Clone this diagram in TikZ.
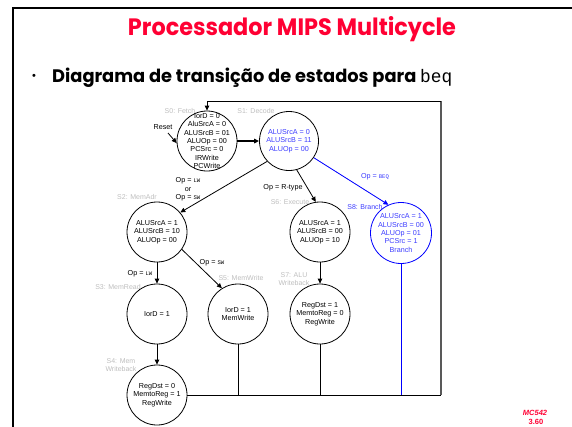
\documentclass[tikz,border=0pt]{standalone}
\usepackage{fontspec}
\setmainfont{Liberation Sans}
\newfontfamily\titlefont{Poppins}
\newfontfamily\monofont{Liberation Mono}
\usetikzlibrary{arrows.meta}
\definecolor{slidered}{RGB}{255,0,51}
\definecolor{stblue}{RGB}{60,60,255}
\definecolor{lineblue}{RGB}{0,0,255}
\definecolor{lblgray}{RGB}{190,190,190}
\newcommand{\smtt}[1]{{\monofont\fontsize{5.6}{6}\selectfont #1}}
\begin{document}
\begin{tikzpicture}[x=1pt,y=-1pt,
  stnode/.style={circle,draw,line width=0.8pt,minimum size=60pt,inner sep=0pt},
  bstnode/.style={stnode,draw=lineblue},
  stxt/.style={font=\fontsize{7.2}{8.4}\selectfont,align=center,inner sep=0pt},
  gl/.style={text=lblgray,font=\fontsize{7}{7.6}\selectfont,align=center,inner sep=0pt},
  elab/.style={font=\fontsize{7.2}{8.5}\selectfont,align=center,inner sep=0pt},
  arr/.style={-{Triangle[length=5pt,width=4.5pt]},line width=0.8pt},
  wire/.style={line width=0.8pt}]
\useasboundingbox (0,0) rectangle (572,426);
% slide frame
\draw[line width=2.2pt] (13,427) -- (13,8) -- (573,8);
% title and bullet
\node[inner sep=0pt,text=slidered] (title) at (292,29)
  {\resizebox{328pt}{19pt}{\titlefont\bfseries Processador MIPS Multicycle}};
\node[inner sep=0pt] (bul) at (34,77) {\fontsize{11}{11}\selectfont •};
\node[inner sep=0pt,anchor=base west] (sub) at (52,82)
  {\resizebox{400pt}{14.5pt}{{\titlefont\bfseries Diagrama de transição de estados para }{\monofont beq}}};
% states
\node[stnode] (S0) at (207,141) {};
\node[stnode,minimum size=59pt] (S1) at (289,141) {};
\node[stnode] (S2) at (157,232) {};
\node[stnode] (S6) at (320,232) {};
\node[bstnode,minimum size=61pt] (S8) at (401,233) {};
\node[stnode] (S3) at (157,314) {};
\node[stnode] (S5) at (238,314) {};
\node[stnode] (S7) at (320,314) {};
\node[stnode] (S4) at (157,395) {};
% state texts
\node[stxt] (t0) at (S0) {IorD = 0\\AluSrcA = 0\\ALUSrcB = 01\\ALUOp = 00\\PCSrc = 0\\IRWrite\\PCWrite};
\node[stxt,text=stblue] (t1) at (S1) {ALUSrcA = 0\\ALUSrcB = 11\\ALUOp = 00};
\node[stxt] (t2) at (S2) {ALUSrcA = 1\\ALUSrcB = 10\\ALUOp = 00};
\node[stxt] (t6) at (S6) {ALUSrcA = 1\\ALUSrcB = 00\\ALUOp = 10};
\node[stxt,text=stblue] (t8) at (S8) {ALUSrcA = 1\\ALUSrcB = 00\\ALUOp = 01\\PCSrc = 1\\Branch};
\node[stxt] (t3) at (S3) {IorD = 1};
\node[stxt] (t5) at (S5) {IorD = 1\\MemWrite};
\node[stxt] (t7) at (S7) {RegDst = 1\\MemtoReg = 0\\RegWrite};
\node[stxt] (t4) at (S4) {RegDst = 0\\MemtoReg = 1\\RegWrite};
% state names
\node[gl] (n0) at (180,111) {S0: Fetch};
\node[gl] (n1) at (256,111) {S1: Decode};
\node[gl] (n2) at (137,197) {S2: MemAdr};
\node[gl] (n6) at (290,202) {S6: Execute};
\node[gl,text=stblue] (n8) at (365,207) {S8: Branch};
\node[gl] (n3) at (118,287) {S3: MemRead};
\node[gl] (n5) at (241,278) {S5: MemWrite};
\node[gl] (n7) at (294,279) {S7: ALU\\Writeback};
\node[gl] (n4) at (121,365) {S4: Mem\\Writeback};
% reset
\node[elab] (reset) at (163,127) {Reset};
\coordinate (rs) at (168,133);
\draw[arr] (rs) -- (S0.184);
% transitions
\draw[arr,line width=1.5pt] (S0.east) -- (S1.west);
\draw[arr] (S1.223) -- (S2.40);
\draw[arr] (S1.285) -- (S6.98);
\draw[arr,draw=lineblue,fill=lineblue] (S1.326) -- (S8.114);
\draw[arr] (S2.south) -- (S3.north);
\draw[arr] (S2.325) -- (S5.122);
\draw[arr] (S6.south) -- (S7.north);
\draw[arr] (S3.south) -- (S4.north);
% edge labels
\node[elab] (l12) at (188,189.5) {Op = \smtt{LW}\\or\\Op = \smtt{SW}};
\node[elab] (l16) at (283,188) {Op = R-type};
\node[elab,text=stblue] (l18) at (375,177) {Op = \smtt{BEQ}};
\node[elab] (l23) at (140,274) {Op = \smtt{LW}};
\node[elab] (l25) at (212,263) {Op = \smtt{SW}};
% return path
\coordinate (BR) at (441,395);
\coordinate (TR) at (441,101);
\coordinate (TL) at (207,101);
\draw[wire] (S4.east) -- (BR);
\draw[wire] (S5.south) -- (S5.south |- BR);
\draw[wire] (S7.south) -- (S7.south |- BR);
\draw[wire,draw=lineblue] (S8.south) -- (S8.south |- BR);
\draw[line width=1.4pt,draw=black!65] (BR) -- (TR);
\draw[arr] (TR) -- (TL) -- (S0.north);
% footer
\node[inner sep=0pt,text=slidered,font=\bfseries\itshape\fontsize{7.5}{8}\selectfont] (mc) at (535,413) {MC542};
\node[inner sep=0pt,text=slidered,font=\bfseries\fontsize{7.5}{8}\selectfont] (pg) at (536,422) {3.60};
\end{tikzpicture}
\end{document}
